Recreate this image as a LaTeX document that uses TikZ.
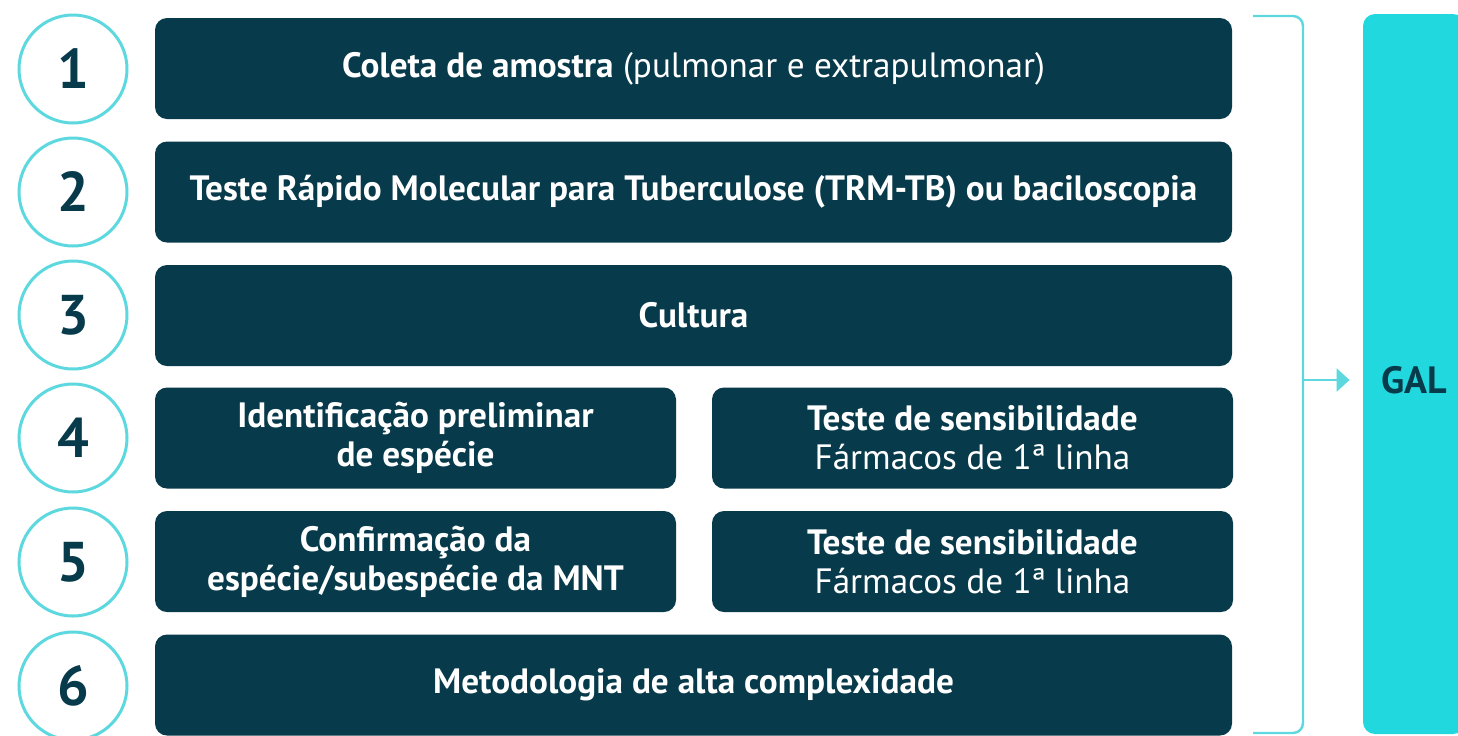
\documentclass[tikz,border=0pt]{standalone}
\usepackage{fontspec}
\setmainfont{PT Sans}
\usetikzlibrary{arrows.meta}
\definecolor{navy}{HTML}{073A4A}
\definecolor{ring}{HTML}{5CD8DE}
\definecolor{galc}{HTML}{22D8DF}
\begin{document}
\begin{tikzpicture}[x=0.5pt,y=-0.5pt,
  stepbox/.style={fill=navy, rounded corners=6pt, text=white, align=center,
    font=\fontsize{17.6}{19.5}\selectfont, inner sep=0pt, minimum height=50.5pt},
  fullbox/.style={stepbox, minimum width=538.5pt},
  halfbox/.style={stepbox, minimum width=260.5pt},
  numring/.style={circle, draw=ring, line width=1.5pt, minimum size=54pt, inner sep=0pt,
    text=navy, font=\bfseries\fontsize{28}{30}\selectfont},
  bracket/.style={draw=ring, line width=1.2pt, rounded corners=5pt},
  galbox/.style={fill=galc, rounded corners=6pt, minimum width=51pt, minimum height=360pt, inner sep=0pt},
  galtext/.style={text=navy, font=\bfseries\fontsize{19}{21}\selectfont}]
\useasboundingbox (0,0) rectangle (1458,735);

\node[numring] (c1) at (73,69) {1};
\node[numring] (c2) at (73,192) {2};
\node[numring] (c3) at (73,315) {3};
\node[numring] (c4) at (73,438) {4};
\node[numring] (c5) at (73,562) {5};
\node[numring] (c6) at (73,686) {6};

\node[fullbox] (b1) at (693.5,68.5) {\textbf{Coleta de amostra} (pulmonar e extrapulmonar)};
\node[fullbox] (b2) at (693.5,192) {\textbf{Teste Rápido Molecular para Tuberculose (TRM-TB) ou baciloscopia}};
\node[fullbox] (b3) at (693.5,315.5) {\textbf{Cultura}};
\node[halfbox] (b4a) at (415.5,438) {\textbf{Identificação preliminar}\\\textbf{de espécie}};
\node[halfbox] (b4b) at (972.5,438) {\textbf{Teste de sensibilidade}\\Fármacos de 1ª linha};
\node[halfbox] (b5a) at (415.5,561.5) {\textbf{Confirmação da}\\\textbf{espécie/subespécie da MNT}};
\node[halfbox] (b5b) at (972.5,561.5) {\textbf{Teste de sensibilidade}\\Fármacos de 1ª linha};
\node[fullbox] (b6) at (693.5,685) {\textbf{Metodologia de alta complexidade}};

\draw[bracket] (1253,16) -- (1303,16) -- (1303,733) -- (1253,733);
\coordinate (br) at (1303,380);

\node[galbox] (gal) at (1414,374) {};
\node[galtext] (galt) at (1414,380) {GAL};

\draw[ring, line width=1.2pt, -{Triangle[length=6.5pt,width=11.5pt]}, shorten >=6.5pt] (br) -- (br -| gal.west);
\end{tikzpicture}
\end{document}
